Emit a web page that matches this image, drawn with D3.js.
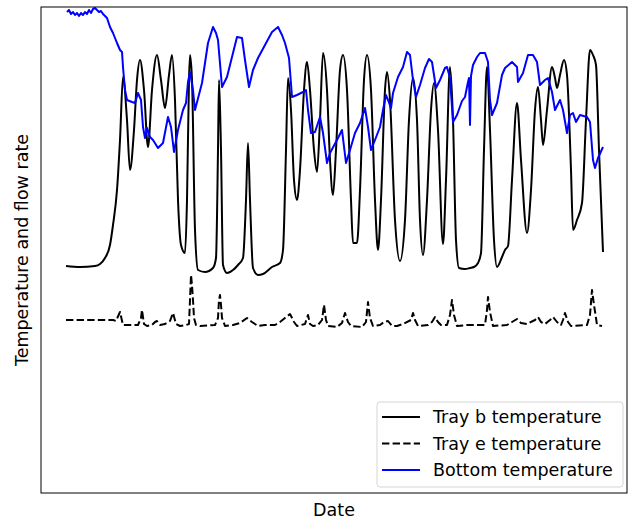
<!DOCTYPE html>
<html>
<head>
<meta charset="utf-8">
<script src="https://cdn.jsdelivr.net/npm/d3@7"></script>
<style>
    body { margin: 0; background: #fff; }
    text { font-family: "DejaVu Sans", sans-serif; }
</style>
</head>
<body>
<div id="chart"></div>
<script>
// [hour, value] samples
const trayB = [
    [0, 46.8], [14, 46.6], [29, 46.8], [34, 47.2], [39, 48.4], [44, 51.0], [47, 55.0], [51, 62.0],
    [54, 72.0], [57, 84.6], [61, 76.0], [64, 66.0], [68, 74.0], [71, 84.0], [74, 88.0], [78, 82.0],
    [82, 70.6], [86, 82.0], [91, 89.0], [95, 84.0], [99, 78.4], [103, 85.0], [106, 89.0], [109, 80.0],
    [112, 60.0], [115, 51.0], [119, 49.4], [121, 60.0], [123, 84.0], [124, 89.0], [126, 84.0], [129, 54.0],
    [132, 46.0], [139, 45.6], [147, 46.4], [150, 48.4], [152, 70.0], [153, 84.0], [155, 70.0], [157, 47.0],
    [161, 45.4], [167, 46.0], [172, 47.0], [177, 48.4], [180, 60.0], [182, 71.4], [184, 60.0], [187, 46.4],
    [192, 45.0], [197, 45.2], [206, 46.6], [214, 47.4], [217, 50.0], [220, 70.0], [222, 84.4], [225, 78.0],
    [228, 64.0], [231, 60.0], [234, 66.0], [238, 82.0], [241, 87.6], [244, 82.0], [248, 70.0], [251, 65.6],
    [254, 76.0], [257, 89.4], [261, 82.0], [264, 68.0], [267, 61.0], [270, 70.0], [274, 86.0], [277, 89.0],
    [281, 82.0], [285, 60.0], [287, 51.4], [291, 51.4], [294, 62.0], [298, 84.0], [301, 89.0], [305, 82.0],
    [309, 60.0], [312, 50.0], [315, 60.0], [319, 82.0], [321, 85.6], [324, 80.0], [329, 56.0], [334, 47.8],
    [339, 56.0], [343, 76.0], [347, 84.4], [351, 76.0], [354, 56.0], [357, 49.0], [361, 60.0], [365, 78.0],
    [368, 83.4], [372, 74.0], [377, 51.2], [380, 64.0], [384, 86.6], [387, 76.0], [390, 52.0], [393, 46.4],
    [399, 46.2], [404, 46.4], [408, 46.6], [412, 47.4], [415, 49.4], [418, 70.0], [421, 86.6], [424, 74.0],
    [428, 52.0], [431, 46.6], [436, 48.6], [439, 50.0], [442, 50.8], [446, 64.0], [451, 79.4], [455, 68.0],
    [461, 53.4], [465, 62.0], [469, 78.0], [472, 82.6], [475, 76.0], [477, 71.0], [481, 78.0], [486, 86.6],
    [489, 84.4], [491, 82.4], [494, 85.0], [498, 88.0], [501, 85.0], [505, 66.0], [507, 54.0], [511, 56.0],
    [516, 59.4], [520, 76.0], [524, 90.0], [527, 89.0], [530, 87.0], [533, 70.0], [537, 49.6]
];

const trayE = [
    [0, 36.0], [47, 36.0], [50, 35.8], [54, 37.6], [57, 35.0], [62, 35.0], [72, 35.0], [75, 36.4],
    [76, 38.0], [78, 35.2], [81, 34.8], [86, 35.0], [89, 35.6], [91, 35.8], [94, 35.0], [99, 35.2],
    [104, 35.8], [107, 37.4], [110, 35.2], [114, 34.8], [120, 35.0], [123, 35.2], [124, 40.0], [125, 45.0],
    [126, 43.0], [127, 40.0], [128, 36.4], [130, 35.0], [134, 34.8], [149, 35.0], [152, 36.4], [153, 40.0],
    [154, 41.0], [155, 39.0], [156, 36.4], [159, 34.8], [167, 35.0], [174, 35.4], [181, 36.4], [186, 35.6],
    [192, 34.8], [199, 35.0], [209, 35.0], [214, 35.6], [219, 36.4], [224, 37.2], [228, 35.6], [231, 34.8],
    [239, 35.2], [242, 37.0], [244, 35.2], [247, 34.8], [252, 35.0], [256, 36.0], [258, 39.0], [260, 36.0],
    [262, 34.8], [271, 34.6], [276, 35.4], [279, 37.4], [282, 35.6], [285, 34.8], [296, 34.6], [300, 35.6],
    [302, 39.6], [304, 36.4], [307, 34.8], [314, 35.0], [318, 35.6], [322, 35.8], [326, 34.8], [331, 34.8],
    [337, 35.2], [345, 36.0], [347, 37.4], [349, 36.0], [352, 34.8], [362, 35.0], [366, 35.6], [369, 36.6],
    [372, 35.6], [375, 35.0], [381, 35.0], [384, 37.0], [386, 40.0], [388, 37.0], [391, 34.8], [401, 35.0],
    [419, 35.0], [421, 38.0], [422, 40.6], [424, 37.6], [427, 34.8], [441, 35.0], [446, 35.6], [451, 36.2],
    [455, 35.4], [461, 35.2], [469, 36.0], [472, 36.6], [475, 35.6], [479, 35.2], [484, 36.0], [487, 36.6],
    [491, 35.6], [495, 35.0], [497, 36.0], [499, 37.4], [502, 35.6], [505, 34.8], [521, 35.0], [524, 37.0],
    [526, 42.0], [528, 39.0], [530, 36.4], [531, 35.0], [536, 34.8]
];

const bottom = [
    [1, 97.6], [3, 98.0], [5, 97.2], [7, 97.6], [9, 97.0], [11, 97.4], [13, 96.8], [15, 97.4],
    [17, 97.0], [19, 97.6], [21, 97.2], [23, 98.0], [25, 97.4], [27, 98.2], [29, 98.4], [31, 98.0],
    [33, 97.6], [35, 97.8], [37, 97.2], [41, 96.4], [44, 94.6], [47, 93.4], [51, 91.4], [54, 90.0],
    [56, 89.6], [57, 86.6], [59, 82.0], [61, 80.0], [66, 79.6], [69, 79.4], [72, 81.4], [75, 80.0],
    [77, 74.6], [79, 72.4], [81, 74.4], [84, 72.6], [87, 72.0], [92, 70.4], [97, 71.4], [102, 76.6],
    [105, 74.6], [108, 69.6], [112, 74.0], [117, 78.0], [120, 79.4], [122, 83.6], [124, 85.6], [127, 82.0],
    [129, 78.0], [136, 83.4], [142, 91.4], [147, 94.6], [150, 93.4], [152, 92.0], [156, 82.6], [161, 84.6],
    [166, 88.6], [171, 92.6], [176, 92.4], [179, 88.0], [183, 82.6], [187, 86.0], [192, 88.4], [199, 91.0],
    [206, 93.6], [212, 94.6], [216, 93.0], [219, 91.4], [223, 88.4], [226, 80.6], [231, 81.0], [237, 81.6],
    [240, 82.0], [242, 78.0], [245, 73.4], [249, 73.6], [254, 76.6], [257, 73.4], [261, 67.4], [264, 69.4],
    [271, 72.0], [276, 74.0], [280, 67.4], [284, 70.0], [289, 73.4], [294, 75.4], [299, 78.4], [302, 74.6],
    [305, 70.0], [309, 72.0], [314, 74.6], [317, 78.0], [320, 81.0], [322, 80.0], [325, 78.4], [327, 81.4],
    [332, 84.6], [337, 86.6], [341, 89.6], [344, 89.0], [347, 84.0], [350, 80.6], [354, 83.0], [359, 86.4],
    [363, 88.2], [366, 87.6], [370, 82.4], [374, 84.0], [379, 86.4], [381, 86.6], [384, 84.4], [387, 75.6],
    [391, 77.0], [396, 79.8], [399, 80.6], [402, 83.6], [403, 84.4], [404, 75.0], [405, 84.8], [407, 87.0],
    [411, 88.6], [414, 89.4], [419, 89.4], [422, 87.6], [424, 80.0], [426, 77.0], [431, 79.4], [436, 85.0],
    [439, 86.4], [446, 87.6], [451, 86.6], [452, 83.6], [457, 85.4], [462, 89.0], [467, 89.0], [471, 87.6],
    [474, 83.0], [479, 84.0], [482, 84.4], [486, 81.6], [489, 78.0], [494, 80.0], [497, 78.0], [501, 73.4],
    [504, 77.0], [507, 77.4], [510, 75.6], [514, 77.0], [521, 76.6], [524, 75.6], [527, 68.0], [529, 66.4],
    [532, 68.4], [537, 70.6]
];

const seriesNames = ['Tray b temperature', 'Tray e temperature', 'Bottom temperature'];
const xLabel = 'Date';
const yLabel = 'Temperature and flow rate';

class TempChart {

    constructor(_config) {
        this.config = {
            parentElement: _config.parentElement,
            containerWidth: _config.containerWidth || 632,
            containerHeight: _config.containerHeight || 521,
            margin: _config.margin || { top: 7, right: 5, bottom: 28, left: 41 }
        };
        this.initVis();
    }

    initVis() {
        let vis = this;

        vis.width = vis.config.containerWidth - vis.config.margin.left - vis.config.margin.right;
        vis.height = vis.config.containerHeight - vis.config.margin.top - vis.config.margin.bottom;

        vis.xScale = d3.scaleLinear()
            .domain([-25, 561])
            .range([0, vis.width]);

        vis.yScale = d3.scaleLinear()
            .domain([1.4, 98.6])
            .range([vis.height, 0]);

        vis.svg = d3.select(vis.config.parentElement).append('svg')
            .attr('width', vis.config.containerWidth)
            .attr('height', vis.config.containerHeight);

        vis.chart = vis.svg.append('g')
            .attr('transform', `translate(${vis.config.margin.left},${vis.config.margin.top})`);

        // axis titles
        vis.svg.append('text')
            .attr('x', vis.config.margin.left + vis.width / 2)
            .attr('y', 516)
            .attr('text-anchor', 'middle')
            .attr('font-size', '17.5px')
            .text(xLabel);

        vis.svg.append('text')
            .attr('transform', `translate(28,${vis.config.margin.top + vis.height / 2}) rotate(-90)`)
            .attr('text-anchor', 'middle')
            .attr('font-size', '17.5px')
            .text(yLabel);

        vis.updateVis();
    }

    updateVis() {
        let vis = this;

        vis.line = d3.line()
            .x(d => vis.xScale(d[0]))
            .y(d => vis.yScale(d[1]));

        vis.renderVis();
    }

    renderVis() {
        let vis = this;

        const series = [
            { name: seriesNames[0], data: trayB, color: '#000', dash: null, curve: d3.curveMonotoneX },
            { name: seriesNames[1], data: trayE, color: '#000', dash: '7.4,3.2', curve: d3.curveLinear },
            { name: seriesNames[2], data: bottom, color: '#0000ff', dash: null, curve: d3.curveLinear }
        ];

        vis.chart.selectAll('.series')
            .data(series)
            .join('path')
            .attr('class', 'series')
            .attr('fill', 'none')
            .attr('stroke', d => d.color)
            .attr('stroke-width', 2)
            .attr('stroke-dasharray', d => d.dash)
            .attr('stroke-linejoin', 'round')
            .attr('d', d => vis.line.curve(d.curve)(d.data));

        // frame
        vis.chart.append('rect')
            .attr('width', vis.width)
            .attr('height', vis.height)
            .attr('fill', 'none')
            .attr('stroke', '#000')
            .attr('stroke-width', 1);

        // legend
        const legend = vis.chart.append('g')
            .attr('transform', `translate(${vis.width - 250},${vis.height - 91})`);

        legend.append('rect')
            .attr('width', 246)
            .attr('height', 85)
            .attr('rx', 3)
            .attr('fill', '#fff')
            .attr('fill-opacity', 0.8)
            .attr('stroke', '#d5d5d5')
            .attr('stroke-width', 1);

        const rows = legend.selectAll('.row')
            .data(series)
            .join('g')
            .attr('class', 'row')
            .attr('transform', (d, i) => `translate(0,${15 + i * 26.5})`);

        rows.append('line')
            .attr('x1', 5)
            .attr('x2', 43)
            .attr('stroke', d => d.color)
            .attr('stroke-width', 2)
            .attr('stroke-dasharray', d => d.dash);

        rows.append('text')
            .attr('x', 56)
            .attr('dy', '0.35em')
            .attr('font-size', '17.5px')
            .attr('fill', '#000')
            .text(d => d.name);
    }
}

new TempChart({ parentElement: '#chart' });
</script>
</body>
</html>
